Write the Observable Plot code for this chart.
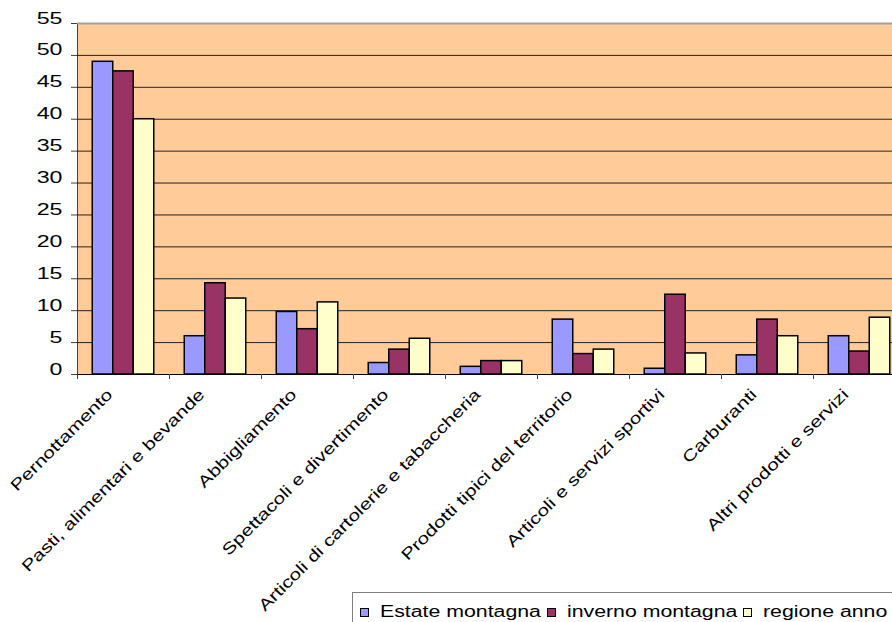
<!DOCTYPE html>
<html>
<head>
<meta charset="utf-8">
<script src="https://cdn.jsdelivr.net/npm/d3@7"></script>
<script src="https://cdn.jsdelivr.net/npm/@observablehq/plot@0.6"></script>
<style>
  html, body { margin: 0; padding: 0; background: #fff; overflow: hidden; width: 892px; height: 622px; }
  #chart svg { display: block; overflow: visible; }
  #legend {
    margin-left: 352px; border: 1px solid #808080; border-right: none; border-bottom: none;
    height: 40px; padding: 11px 0 0 7px; box-sizing: border-box;
    font-family: "Liberation Sans", Arial, sans-serif; font-size: 16px; line-height: 16px;
    white-space: nowrap; color: #000;
  }
  #legend .sw { display: inline-block; width: 7px; height: 7px; border: 1px solid #000; vertical-align: 0; margin-right: 11px; }
  #legend .lb { display: inline-block; transform-origin: 0 0; }
</style>
</head>
<body>
<div id="chart"></div>
<div id="legend"></div>
<script>
// ---- data ----
const categories = [
  "Pernottamento",
  "Pasti, alimentari e bevande",
  "Abbigliamento",
  "Spettacoli e divertimento",
  "Articoli di cartolerie e tabaccheria",
  "Prodotti tipici del territorio",
  "Articoli e servizi sportivi",
  "Carburanti",
  "Altri prodotti e servizi"
];
const seriesNames = ["Estate montagna", "inverno montagna", "regione anno"];
const estate  = [49.0, 6.0, 9.8, 1.8, 1.2, 8.6, 0.9, 3.0, 6.0];
const inverno = [47.5, 14.3, 7.1, 3.9, 2.1, 3.2, 12.5, 8.6, 3.6];
const regione = [40.0, 11.9, 11.3, 5.6, 2.1, 3.9, 3.3, 6.0, 8.9];
const seriesColors = ["#9999FF", "#993366", "#FFFFCC"];
const yTicks = [0, 5, 10, 15, 20, 25, 30, 35, 40, 45, 50, 55];

// ---- layout ----
const W = 892, H = 592;
const mL = 77, mT = 23, mB = 218;
const band = 92;
const barW = 20.5;
const inset = (band - barW) / 2;
const seriesValues = [estate, inverno, regione];
const offsets = [-barW, 0, barW];

const rows = categories.map((c, i) => ({cat: c, v: seriesValues.map(s => s[i])}));

const barMarks = seriesNames.map((name, k) =>
  Plot.barY(rows, {
    x: "cat", y: d => d.v[k],
    fill: seriesColors[k], stroke: "#000", strokeWidth: 1.5,
    insetLeft: inset, insetRight: inset, dx: offsets[k]
  })
);

const chart = Plot.plot({
  width: W, height: H,
  marginLeft: mL, marginRight: 0, marginTop: mT, marginBottom: mB,
  x: {type: "band", domain: categories, range: [mL, mL + categories.length * band], padding: 0, axis: null},
  y: {domain: [0, 55], axis: null},
  style: {fontFamily: "Liberation Sans, Arial, sans-serif", fontSize: "16px", color: "#000", background: "transparent", overflow: "visible"},
  marks: [
    Plot.frame({fill: "#FFCC99", stroke: "#404040"}),
    Plot.ruleY(yTicks.filter(t => t > 0 && t < 55), {stroke: "#222", strokeWidth: 1}),
    Plot.ruleY([55], {stroke: "#a0a0a0", strokeWidth: 2}),
    ...barMarks,
    Plot.ruleY([0], {stroke: "#000", strokeWidth: 1}),
    Plot.axisY({ticks: yTicks, tickSize: 6, tickPadding: 9, fontSize: 16, stroke: "#404040", label: null, tickFormat: d => String(d)}),
    Plot.axisX({tickSize: 5, dx: -band / 2, stroke: "#404040", label: null, tickFormat: () => ""}),
    Plot.text(categories, {
      x: d => d, frameAnchor: "bottom", rotate: -45, textAnchor: "end", lineAnchor: "middle",
      dx: -10, dy: 21, fontSize: 16, fill: "#000"
    })
  ]
});
document.getElementById("chart").appendChild(chart);

// horizontal glyph stretch (reference text is rendered wide)
function stretch(t, s) {
  const x = +t.getAttribute("x") || 0;
  const y = +t.getAttribute("y") || 0;
  const tr = t.getAttribute("transform") || "";
  t.removeAttribute("x"); t.removeAttribute("y");
  t.setAttribute("transform", `${tr} translate(${x},${y}) scale(${s},1)`);
}
const yLabelSet = new Set(yTicks.map(String));
const catSet = new Set(categories);
chart.querySelectorAll("text").forEach(t => {
  const s = t.textContent;
  if (catSet.has(s)) stretch(t, 1.3);
  else if (yLabelSet.has(s)) stretch(t, 1.45);
});

// ---- legend ----
const legend = document.getElementById("legend");
seriesNames.forEach((name, k) => {
  const sw = document.createElement("span");
  sw.className = "sw"; sw.style.background = seriesColors[k];
  const lb = document.createElement("span");
  lb.className = "lb"; lb.textContent = name;
  legend.appendChild(sw); legend.appendChild(lb);
});
legend.querySelectorAll(".lb").forEach(lb => {
  const w = lb.offsetWidth;
  lb.style.transform = "scaleX(1.33)";
  lb.style.marginRight = (w * 0.33 + 6) + "px";
});
</script>
</body>
</html>
